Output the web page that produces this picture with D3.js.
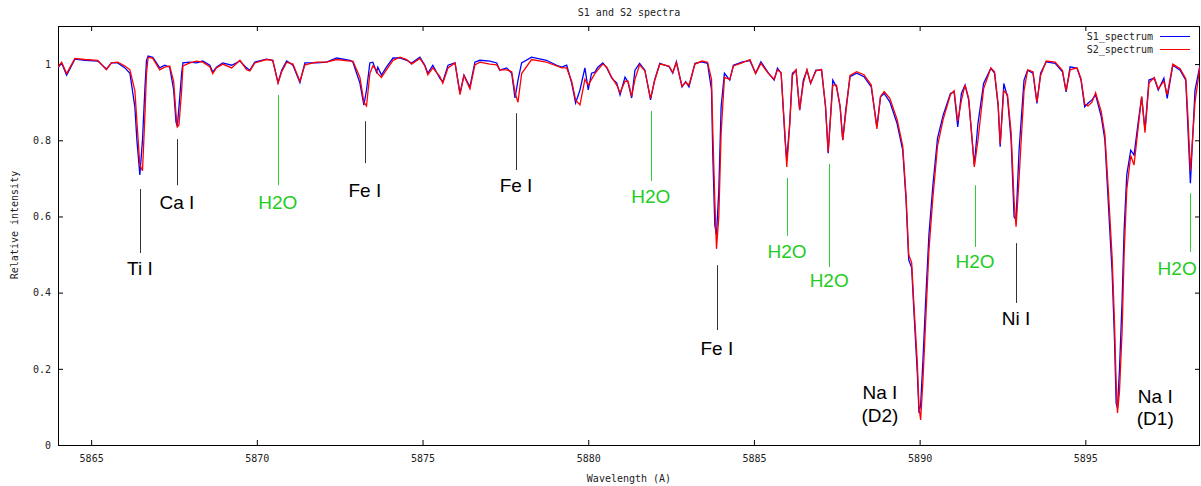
<!DOCTYPE html>
<html>
<head>
<meta charset="utf-8">
<script src="https://cdn.jsdelivr.net/npm/d3@7"></script>
<style>
  body { margin: 0; background: #fff; }
  svg { display: block; }
</style>
</head>
<body>
<div id="chart"></div>
<script>
// wavelength grid (Angstrom), shared by both spectra
const wavelength = [
  5864.00,5864.11,5864.26,5864.51,5864.81,5865.20,5865.46,5865.61,5865.80,5866.02,
  5866.17,5866.32,5866.38,5866.47,5866.55,5866.62,5866.67,5866.72,5866.86,5867.07,
  5867.22,5867.37,5867.49,5867.56,5867.60,5867.65,5867.73,5867.77,5867.98,5868.18,
  5868.37,5868.58,5868.67,5868.78,5868.97,5869.24,5869.49,5869.69,5869.79,5869.94,
  5870.29,5870.48,5870.64,5870.75,5870.90,5871.09,5871.30,5871.45,5871.80,5872.10,
  5872.41,5872.81,5872.90,5873.11,5873.23,5873.31,5873.41,5873.50,5873.61,5873.65,
  5873.76,5873.91,5874.11,5874.32,5874.52,5874.67,5874.92,5875.07,5875.16,5875.31,
  5875.52,5875.61,5875.77,5875.98,5876.13,5876.25,5876.43,5876.58,5876.73,5877.03,
  5877.24,5877.33,5877.54,5877.69,5877.79,5877.88,5877.99,5878.29,5878.74,5879.05,
  5879.20,5879.35,5879.50,5879.62,5879.75,5879.90,5880.00,5880.10,5880.20,5880.29,
  5880.44,5880.56,5880.71,5880.86,5880.96,5881.11,5881.20,5881.31,5881.41,5881.55,
  5881.71,5881.88,5882.00,5882.16,5882.44,5882.55,5882.66,5882.83,5882.94,5883.04,
  5883.22,5883.43,5883.60,5883.72,5883.76,5883.82,5883.87,5883.94,5884.01,5884.11,
  5884.27,5884.38,5884.66,5884.88,5885.05,5885.21,5885.44,5885.61,5885.71,5885.82,
  5885.94,5885.99,5886.08,5886.16,5886.27,5886.38,5886.49,5886.60,5886.71,5886.87,
  5887.04,5887.16,5887.24,5887.38,5887.49,5887.60,5887.68,5887.77,5887.90,5888.10,
  5888.32,5888.54,5888.71,5888.82,5888.93,5889.10,5889.32,5889.49,5889.59,5889.67,
  5889.76,5889.82,5889.93,5889.98,5890.03,5890.10,5890.19,5890.28,5890.40,5890.54,
  5890.71,5890.93,5891.04,5891.15,5891.26,5891.37,5891.48,5891.65,5891.76,5891.93,
  5892.15,5892.26,5892.37,5892.43,5892.54,5892.65,5892.76,5892.85,5892.91,5893.00,
  5893.15,5893.26,5893.42,5893.54,5893.65,5893.82,5894.09,5894.31,5894.42,5894.54,
  5894.75,5894.87,5894.98,5895.08,5895.20,5895.31,5895.48,5895.59,5895.70,5895.81,
  5895.88,5895.93,5895.97,5896.03,5896.11,5896.17,5896.25,5896.37,5896.47,5896.59,
  5896.70,5896.80,5896.92,5897.08,5897.20,5897.37,5897.47,5897.64,5897.86,5898.03,
  5898.09,5898.17,5898.31,5898.46
];

const s1Spectrum = [
  0.990,1.003,0.971,1.013,1.010,1.008,0.987,1.003,1.003,0.990,
  0.976,0.887,0.801,0.709,0.801,0.932,1.010,1.021,1.018,0.990,
  0.997,0.992,0.932,0.848,0.837,0.887,0.976,1.003,1.005,1.003,
  1.008,0.997,0.979,0.992,1.003,0.997,1.008,0.990,0.984,1.005,
  1.013,1.010,0.951,0.984,1.008,0.997,0.951,1.003,1.003,1.005,
  1.016,1.010,1.005,0.950,0.892,0.932,1.003,1.005,0.979,0.992,
  0.971,0.992,1.016,1.016,1.010,1.003,1.018,0.997,0.976,0.997,
  0.963,0.953,0.997,1.003,0.924,0.971,0.940,1.005,1.010,1.008,
  1.003,0.984,0.990,0.976,0.911,0.958,1.003,1.018,1.010,0.997,
  0.992,0.997,0.950,0.898,0.932,0.990,0.932,0.976,0.979,0.992,
  1.003,0.990,0.963,0.950,0.919,0.966,0.953,0.911,0.984,1.002,
  0.984,0.906,0.958,1.002,0.993,0.976,1.006,0.940,0.954,0.940,
  1.002,1.006,1.002,0.932,0.757,0.577,0.551,0.669,0.888,0.976,
  0.958,0.997,1.006,1.009,0.976,1.006,0.976,0.958,0.989,0.976,
  0.801,0.748,0.845,0.976,0.984,0.879,0.958,0.984,0.949,0.984,
  0.984,0.888,0.766,0.958,0.940,0.888,0.801,0.879,0.967,0.976,
  0.967,0.940,0.835,0.914,0.923,0.901,0.844,0.774,0.643,0.486,
  0.465,0.363,0.189,0.084,0.105,0.223,0.394,0.551,0.682,0.806,
  0.866,0.923,0.927,0.835,0.923,0.945,0.906,0.735,0.844,0.949,
  0.989,0.976,0.888,0.783,0.949,0.914,0.801,0.599,0.591,0.774,
  0.958,0.984,0.976,0.897,0.976,1.006,1.002,0.980,0.927,0.993,
  0.989,0.958,0.888,0.897,0.906,0.919,0.862,0.801,0.625,0.451,
  0.276,0.110,0.097,0.197,0.381,0.564,0.709,0.774,0.761,0.844,
  0.914,0.827,0.958,0.963,0.932,0.963,0.910,0.997,0.984,0.958,
  0.844,0.687,0.932,0.997
];

const s2Spectrum = [
  0.992,1.005,0.975,1.015,1.012,1.010,0.985,1.003,1.005,0.995,
  0.985,0.930,0.850,0.735,0.720,0.860,0.975,1.018,1.015,0.985,
  0.992,0.995,0.955,0.870,0.835,0.840,0.930,0.995,1.003,1.008,
  1.005,0.993,0.975,0.990,1.000,0.990,1.010,0.985,0.982,1.003,
  1.012,1.010,0.950,0.980,1.005,1.000,0.955,0.998,1.005,1.005,
  1.012,1.008,1.008,0.965,0.900,0.890,0.975,0.995,0.985,0.975,
  0.965,0.985,1.010,1.018,1.012,1.000,1.015,0.995,0.972,0.990,
  0.968,0.950,0.990,1.003,0.920,0.970,0.935,0.998,1.005,1.000,
  0.998,0.985,0.985,0.980,0.925,0.900,0.975,1.012,1.005,0.995,
  0.990,0.990,0.955,0.905,0.893,0.960,0.945,0.960,0.975,0.985,
  1.000,0.992,0.965,0.945,0.925,0.955,0.955,0.915,0.960,0.998,
  0.982,0.910,0.955,1.000,0.995,0.978,1.004,0.942,0.952,0.945,
  1.000,1.008,1.005,0.960,0.820,0.640,0.515,0.600,0.820,0.965,
  0.960,0.995,1.004,1.012,0.975,1.002,0.975,0.960,0.985,0.978,
  0.810,0.730,0.840,0.970,0.985,0.880,0.950,0.985,0.950,0.982,
  0.986,0.890,0.770,0.945,0.945,0.890,0.800,0.870,0.970,0.980,
  0.972,0.945,0.830,0.915,0.928,0.910,0.855,0.785,0.655,0.500,
  0.478,0.380,0.215,0.100,0.066,0.170,0.340,0.510,0.650,0.785,
  0.855,0.920,0.930,0.850,0.905,0.945,0.910,0.730,0.800,0.935,
  0.990,0.980,0.895,0.790,0.930,0.920,0.820,0.640,0.573,0.700,
  0.930,0.985,0.980,0.900,0.970,1.008,1.005,0.983,0.930,0.985,
  0.990,0.962,0.895,0.890,0.900,0.925,0.875,0.815,0.660,0.490,
  0.320,0.160,0.084,0.140,0.300,0.500,0.670,0.760,0.735,0.830,
  0.915,0.820,0.950,0.965,0.935,0.955,0.920,1.000,0.988,0.962,
  0.870,0.720,0.900,0.995
];

const xTicks = [5865, 5870, 5875, 5880, 5885, 5890, 5895];
const yTicks = [0, 0.2, 0.4, 0.6, 0.8, 1];

// line identifications: marker line spans and label level in data units
const labelNames  = ["Ti I", "Ca I", "H2O", "Fe I", "Fe I", "H2O", "Fe I", "H2O", "H2O", "H2O", "Ni I", "H2O"];
const labelWave   = [5866.47, 5867.59, 5870.63, 5873.26, 5877.82, 5881.89, 5883.88, 5886.00, 5887.27, 5891.67, 5892.91, 5898.16];
const labelTextAt = [5866.47, 5867.59, 5870.63, 5873.26, 5877.82, 5881.89, 5883.88, 5886.00, 5887.27, 5891.67, 5892.91, 5897.77];
const lineTop     = [0.672, 0.803, 0.919, 0.850, 0.871, 0.877, 0.472, 0.701, 0.738, 0.682, 0.530, 0.661];
const lineBottom  = [0.504, 0.682, 0.682, 0.740, 0.722, 0.693, 0.302, 0.549, 0.467, 0.520, 0.373, 0.507];
const textLevel   = [0.465, 0.638, 0.638, 0.669, 0.682, 0.654, 0.255, 0.509, 0.433, 0.483, 0.333, 0.465];

const sodiumNames = ["Na I", "Na I"];
const sodiumSub   = ["(D2)", "(D1)"];
const sodiumWave  = [5888.80, 5897.11];
const sodiumLevel = [0.139, 0.129];
const sodiumSubLevel = [0.079, 0.071];

const width = 1201, height = 486;
const margin = {top: 26, right: 1, bottom: 41, left: 58};

const svg = d3.select("#chart").append("svg")
  .attr("width", width)
  .attr("height", height);

const x = d3.scaleLinear().domain([5864, 5898.46]).range([margin.left, width - margin.right]);
const y = d3.scaleLinear().domain([0, 1.1]).range([height - margin.bottom, margin.top]);

const monoFont = "'DejaVu Sans Mono', monospace";

svg.append("defs").append("clipPath").attr("id", "plotclip")
  .append("rect")
  .attr("x", x.range()[0]).attr("y", y.range()[1])
  .attr("width", x.range()[1] - x.range()[0])
  .attr("height", y.range()[0] - y.range()[1]);

// title and axis labels
svg.append("text")
  .attr("x", (x.range()[0] + x.range()[1]) / 2)
  .attr("y", 16)
  .attr("text-anchor", "middle")
  .style("font", "10px " + monoFont)
  .attr("fill", "#222")
  .text("S1 and S2 spectra");

svg.append("text")
  .attr("x", (x.range()[0] + x.range()[1]) / 2)
  .attr("y", 482)
  .attr("text-anchor", "middle")
  .style("font", "10px " + monoFont)
  .attr("fill", "#222")
  .text("Wavelength (A)");

svg.append("text")
  .attr("transform", "translate(18,225) rotate(-90)")
  .attr("text-anchor", "middle")
  .style("font", "10px " + monoFont)
  .attr("fill", "#222")
  .text("Relative intensity");

// axes, ticks pointing inwards like gnuplot
const fmtY = d3.format("");
const bottomAxis = svg.append("g")
  .attr("transform", `translate(0,${y.range()[0]})`)
  .call(d3.axisBottom(x).tickValues(xTicks).tickSize(-5).tickPadding(10).tickFormat(d3.format("d")));
const topAxis = svg.append("g")
  .attr("transform", `translate(0,${y.range()[1]})`)
  .call(d3.axisTop(x).tickValues(xTicks).tickSize(-5).tickFormat(""));
const leftAxis = svg.append("g")
  .attr("transform", `translate(${x.range()[0]},0)`)
  .call(d3.axisLeft(y).tickValues(yTicks).tickSize(-5).tickPadding(7).tickFormat(fmtY));
const rightAxis = svg.append("g")
  .attr("transform", `translate(${x.range()[1]},0)`)
  .call(d3.axisRight(y).tickValues(yTicks).tickSize(-5).tickFormat(""));

[bottomAxis, topAxis, leftAxis, rightAxis].forEach(g => {
  g.select(".domain").remove();
  g.selectAll("line").attr("stroke", "#000");
  g.selectAll("text").style("font", "10px " + monoFont).attr("fill", "#222");
});

svg.append("rect")
  .attr("x", x.range()[0] + 0.5).attr("y", y.range()[1] + 0.5)
  .attr("width", x.range()[1] - x.range()[0] - 1)
  .attr("height", y.range()[0] - y.range()[1])
  .attr("fill", "none")
  .attr("stroke", "#000")
  .attr("stroke-width", 1);

// spectra
const line = d3.line()
  .x(d => x(d[0]))
  .y(d => y(d[1]));

const s1 = wavelength.map((w, i) => [w, s1Spectrum[i]]);
const s2 = wavelength.map((w, i) => [w, s2Spectrum[i]]);

const plot = svg.append("g").attr("clip-path", "url(#plotclip)");
plot.append("path").datum(s1)
  .attr("d", line).attr("fill", "none")
  .attr("stroke", "#0000ff").attr("stroke-width", 1.3);
plot.append("path").datum(s2)
  .attr("d", line).attr("fill", "none")
  .attr("stroke", "#ff0000").attr("stroke-width", 1.3);

// identifications
const labels = labelNames.map((n, i) => ({
  name: n, w: labelWave[i], tw: labelTextAt[i],
  top: lineTop[i], bottom: lineBottom[i], level: textLevel[i]
}));
const colorFor = n => n === "H2O" ? "#22cc22" : "#000";

svg.selectAll(".idline").data(labels).join("line")
  .attr("class", "idline")
  .attr("x1", d => Math.round(x(d.w)) + 0.5)
  .attr("x2", d => Math.round(x(d.w)) + 0.5)
  .attr("y1", d => y(d.top))
  .attr("y2", d => y(d.bottom))
  .attr("stroke", d => d.name === "H2O" ? "#33cc33" : "#333")
  .attr("stroke-width", 1);

svg.selectAll(".idtext").data(labels).join("text")
  .attr("class", "idtext")
  .attr("x", d => x(d.tw))
  .attr("y", d => y(d.level))
  .attr("dy", "0.35em")
  .attr("text-anchor", "middle")
  .style("font", "19px 'Liberation Sans', Arial, sans-serif")
  .attr("fill", d => colorFor(d.name))
  .text(d => d.name);

const sodium = sodiumNames.map((n, i) => ({
  name: n, sub: sodiumSub[i], w: sodiumWave[i], level: sodiumLevel[i], subLevel: sodiumSubLevel[i]
}));
sodium.forEach(d => {
  svg.append("text")
    .attr("x", x(d.w)).attr("y", y(d.level)).attr("dy", "0.35em")
    .attr("text-anchor", "middle")
    .style("font", "19px 'Liberation Sans', Arial, sans-serif")
    .text(d.name);
  svg.append("text")
    .attr("x", x(d.w)).attr("y", y(d.subLevel)).attr("dy", "0.35em")
    .attr("text-anchor", "middle")
    .style("font", "19px 'Liberation Sans', Arial, sans-serif")
    .text(d.sub);
});

// legend
const legend = [["S1_spectrum", "#0000ff"], ["S2_spectrum", "#ff0000"]];
legend.forEach((d, i) => {
  const ly = 36 + i * 13;
  svg.append("text")
    .attr("x", 1153).attr("y", ly).attr("dy", "0.35em")
    .attr("text-anchor", "end")
    .style("font", "10px " + monoFont)
    .attr("fill", "#222")
    .text(d[0]);
  svg.append("line")
    .attr("x1", 1160).attr("x2", 1190)
    .attr("y1", ly + 0.5).attr("y2", ly + 0.5)
    .attr("stroke", d[1]).attr("stroke-width", 1);
});
</script>
</body>
</html>
